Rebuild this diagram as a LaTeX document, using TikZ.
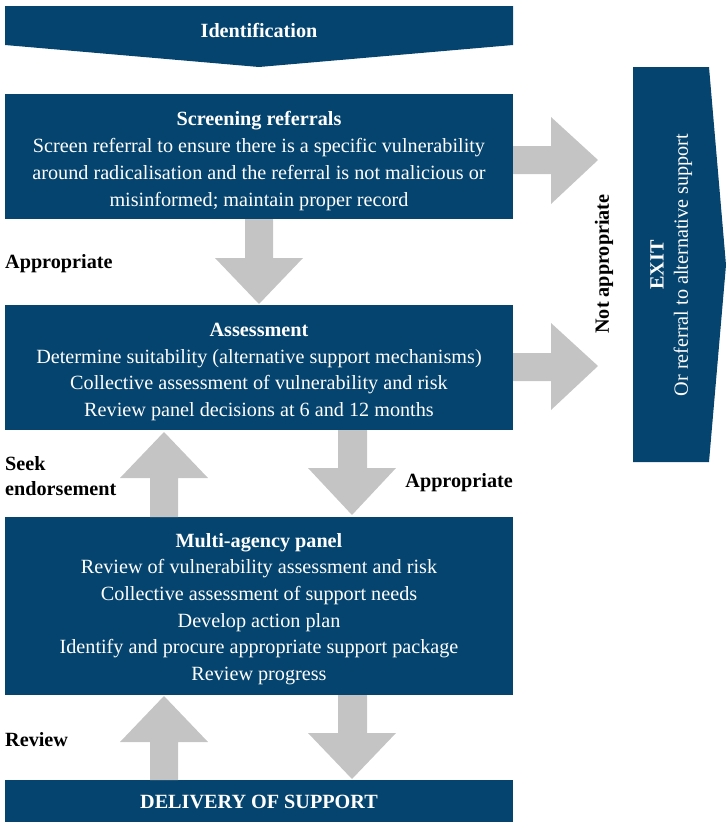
\documentclass[tikz,border=0pt]{standalone}
\usepackage{fontspec}
\setmainfont{Liberation Serif}
\definecolor{dblue}{RGB}{5,68,110}
\definecolor{agray}{RGB}{196,196,196}
\begin{document}
\begin{tikzpicture}[x=1pt,y=-1pt,
  box/.style={fill=dblue,draw=none,inner sep=0pt,anchor=north west},
  boxtext/.style={text=white,align=center,font=\fontsize{20.2}{26.7}\selectfont,inner sep=0pt},
  boldtext/.style={text=white,font=\fontsize{20.2}{26}\selectfont\bfseries,inner sep=0pt},
  lbl/.style={text=black,font=\fontsize{20.2}{25}\selectfont\bfseries,inner sep=0pt},
  garrow/.style={fill=agray,draw=none}]
\useasboundingbox (0,0) rectangle (726,823);
% Identification banner
\fill[dblue] (5,6) -- (513,6) -- (513,45) -- (259,67) -- (5,45) -- cycle;
\node[boldtext] (ident) at (259,30) {Identification};
% boxes
\node[box,minimum width=508,minimum height=125] (scr) at (5,94) {};
\node[boxtext] (scrt) at (259,161) {\textbf{Screening referrals}\\Screen referral to ensure there is a specific vulnerability\\around radicalisation and the referral is not malicious or\\misinformed; maintain proper record};
\node[box,minimum width=508,minimum height=125] (ass) at (5,305) {};
\node[boxtext] (asst) at (259,372) {\textbf{Assessment}\\Determine suitability (alternative support mechanisms)\\Collective assessment of vulnerability and risk\\Review panel decisions at 6 and 12 months};
\node[box,minimum width=508,minimum height=178] (mul) at (5,517) {};
\node[boxtext] (mult) at (259,609) {\textbf{Multi-agency panel}\\Review of vulnerability assessment and risk\\Collective assessment of support needs\\Develop action plan\\Identify and procure appropriate support package\\Review progress};
\node[box,minimum width=508,minimum height=42] (del) at (5,780) {};
\node[boldtext] (delt) at (259,802) {DELIVERY OF SUPPORT};
% EXIT
\fill[dblue] (633,67) -- (709,67) -- (726,265) -- (709,462) -- (633,462) -- cycle;
\node[boldtext,rotate=90] (exit) at (657,265) {EXIT};
\node[boxtext,rotate=90] (exitt) at (683,265) {Or referral to alternative support};
% gray arrows
% screening -> assessment
\fill[garrow] (245,219) -- (273,219) -- (273,258) -- (303,258) -- (259,304) -- (215,258) -- (245,258) -- cycle;
% screening -> exit
\fill[garrow] (513,146) -- (551,146) -- (551,117) -- (598,160) -- (551,204) -- (551,174) -- (513,174) -- cycle;
% assessment -> exit
\fill[garrow] (513,353) -- (551,353) -- (551,323) -- (598,366) -- (551,410) -- (551,381) -- (513,381) -- cycle;
% multi -> assessment (up)
\fill[garrow] (150,517) -- (178,517) -- (178,478) -- (208,478) -- (164,432) -- (120,478) -- (150,478) -- cycle;
% assessment -> multi (down)
\fill[garrow] (338,430) -- (367,430) -- (367,468) -- (396,468) -- (352,515) -- (308,468) -- (338,468) -- cycle;
% delivery -> multi (up)
\fill[garrow] (150,780) -- (178,780) -- (178,742) -- (208,742) -- (164,696) -- (120,742) -- (150,742) -- cycle;
% multi -> delivery (down)
\fill[garrow] (338,695) -- (367,695) -- (367,733) -- (396,733) -- (352,779) -- (308,733) -- (338,733) -- cycle;
% labels
\node[lbl,anchor=west] (l1) at (5,264) {Appropriate};
\node[lbl,anchor=west,align=left] (l2) at (5,476) {Seek\\endorsement};
\node[lbl,anchor=east] (l3) at (513,483) {Appropriate};
\node[lbl,anchor=west] (l4) at (5,740) {Review};
\node[lbl,rotate=90] (l5) at (604,264) {Not appropriate};
\end{tikzpicture}
\end{document}
